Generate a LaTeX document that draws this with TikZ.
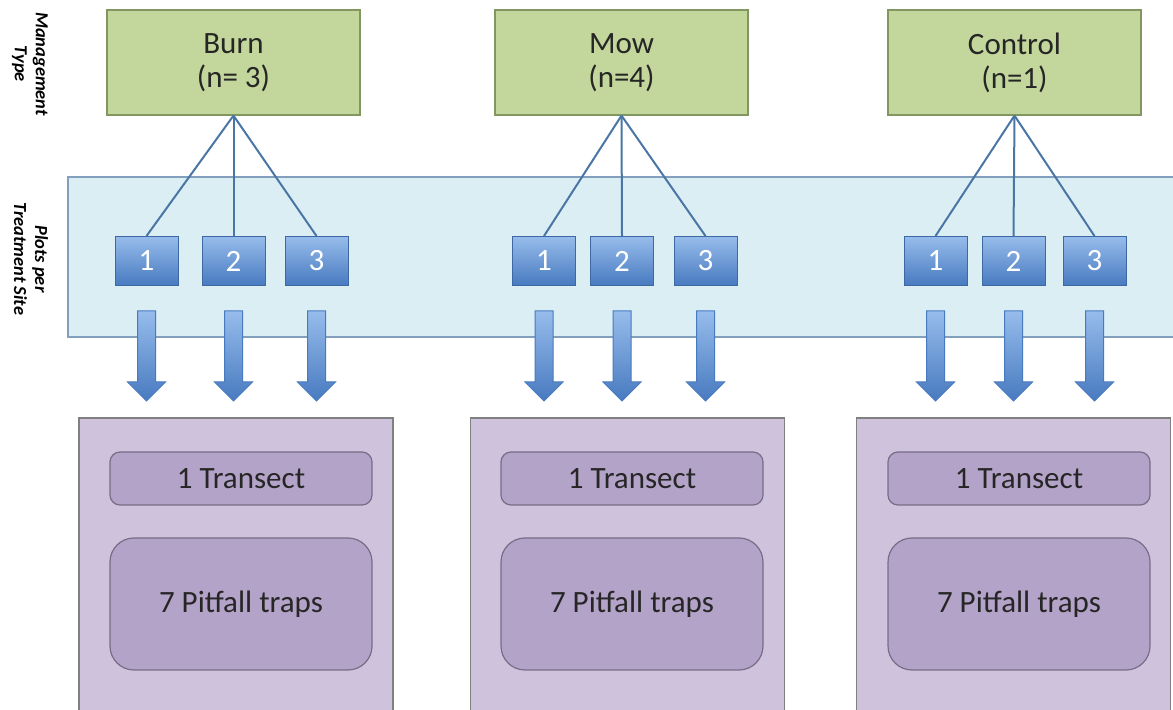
\documentclass[tikz,border=0pt]{standalone}
\usepackage{fontspec}
\setmainfont{Carlito}
\usetikzlibrary{positioning}
\definecolor{mgmtgreen}{RGB}{195,214,155}
\definecolor{mgmtedge}{RGB}{130,150,95}
\definecolor{bandblue}{RGB}{219,238,244}
\definecolor{bandedge}{RGB}{130,160,190}
\definecolor{plotlight}{RGB}{150,188,235}
\definecolor{plotdark}{RGB}{72,122,192}
\definecolor{linkblue}{RGB}{74,118,165}
\definecolor{trapouter}{RGB}{206,194,220}
\definecolor{trapinner}{RGB}{180,163,200}
\definecolor{trapedge}{RGB}{120,108,135}

\tikzset{
  mgmt/.style={draw=mgmtedge, fill=mgmtgreen, line width=0.6pt, minimum width=126.5pt,
    minimum height=52.5pt, align=center, text=black!85,
    font=\fontsize{15.5}{17}\selectfont},
  plot/.style={draw=plotdark!85!black, top color=plotlight, bottom color=plotdark,
    line width=0.5pt, minimum width=31.5pt, minimum height=24.5pt, inner sep=0pt,
    text=white, font=\fontsize{15.5}{17}\selectfont},
  link/.style={draw=linkblue, line width=1pt},
  site/.style={draw=black!50, fill=trapouter, line width=0.6pt},
  transect/.style={draw=trapedge, fill=trapinner, line width=0.6pt, rounded corners=5pt,
    minimum width=131pt, minimum height=26.5pt, text=black!85,
    font=\fontsize{15.5}{17}\selectfont},
  traps/.style={transect, rounded corners=12pt, minimum height=66pt},
  sidelabel/.style={rotate=-90, align=center, font=\bfseries\itshape\fontsize{9.2}{10.5}\selectfont}
}

\begin{document}
\begin{tikzpicture}[x=0.5pt,y=-0.5pt]
\useasboundingbox (0,0) rectangle (1173,710);
\clip (0,0) rectangle (1173,710);

% band behind the plots
\draw[fill=bandblue, draw=bandedge, line width=0.6pt] (68,177) rectangle (1190,337);

\node[sidelabel] (mgmtlbl) at (30,64) {Management\\Type};
\node[sidelabel] (plotlbl) at (31,259) {Plots per\\Treatment Site};

\foreach \g/\gx/\ax/\bx/\cx/\sx/\tx/\txt in {
  burn/233.5/146.5/233.5/316.5/236/241/{Burn\\(n= 3)},
  mow/621.5/544/622/705.5/627.5/632/{Mow\\(n=4)},
  ctrl/1014.5/935.5/1013.5/1094.5/1013.5/1019/{Control\\(n=1)}} {
  \node[mgmt] (\g-top) at (\gx,62.5) {\txt};
  \node[plot] (\g-1) at (\ax,261) {1};
  \node[plot] (\g-2) at (\bx,261) {2};
  \node[plot] (\g-3) at (\cx,261) {3};
  \foreach \i in {1,2,3} {
    \draw[link] (\g-top.south) -- (\g-\i.north);
    % block arrow under each plot
    \begin{scope}[shift={(\g-\i.south)}]
      \shade[top color=plotlight, bottom color=plotdark, draw=plotdark, line width=0.5pt]
        (-9,25) -- (9,25) -- (9,96) -- (19,96) -- (0,115) -- (-19,96) -- (-9,96) -- cycle;
    \end{scope}
  }
  \draw[site] ({\sx-157},418) rectangle ({\sx+157},740);
  \node[transect] (\g-tran) at (\tx,478.5) {1 Transect};
  \node[traps] (\g-trap) at (\tx,604) {7 Pitfall traps};
}
\end{tikzpicture}
\end{document}
